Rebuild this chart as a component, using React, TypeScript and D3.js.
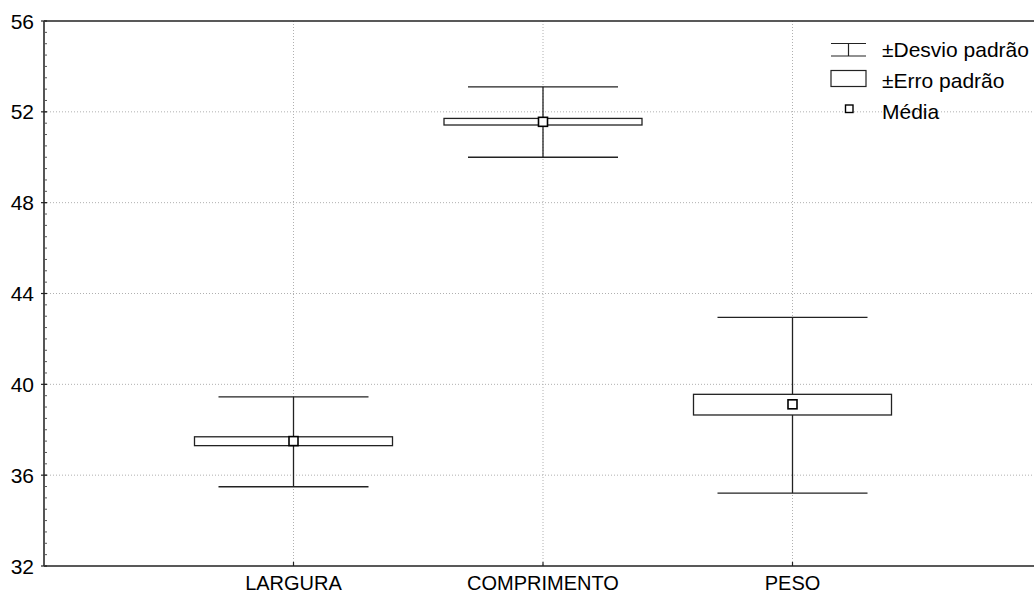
import React from "react";
import * as d3 from "d3";

const categories = ["LARGURA", "COMPRIMENTO", "PESO"];
const means = [37.5, 51.56, 39.12];
const seLow = [37.3, 51.42, 38.65];
const seHigh = [37.69, 51.71, 39.56];
const sdLow = [35.49, 50.0, 35.21];
const sdHigh = [39.45, 53.1, 42.95];
const yTicks = [32, 36, 40, 44, 48, 52, 56];
const legendLabels = ["±Desvio padrão", "±Erro padrão", "Média"];

const W = 1034;
const H = 596;
const FONT = "'Liberation Sans', Arial, sans-serif";

export default function App() {
  const x = d3.scaleLinear().domain([0, 4]).range([44, 1042]);
  const y = d3.scaleLinear().domain([32, 56]).range([566, 21]);
  const minorTicks = d3.range(32, 56.01, 0.5);
  const ink = "#222";
  const grid = "#b0b0b0";
  const boxHalf = 99;
  const capHalf = 75;
  const sq = 9;

  return (
    <svg width={W} height={H} style={{ position: "absolute", left: 0, top: 0 }}>
      <rect x={0} y={0} width={W} height={H} fill="#fff" />
      {/* grid */}
      {yTicks.slice(1, -1).map((t) => (
        <line key={"gy" + t} x1={x(0)} x2={W} y1={y(t)} y2={y(t)} stroke={grid} strokeWidth={1} strokeDasharray="1,2" />
      ))}
      {categories.map((c, i) => (
        <line key={"gx" + c} x1={x(i + 1)} x2={x(i + 1)} y1={y(56)} y2={y(32)} stroke={grid} strokeWidth={1} strokeDasharray="1,2" />
      ))}
      {/* frame */}
      <line x1={x(0)} x2={W} y1={y(56)} y2={y(56)} stroke={ink} strokeWidth={1.5} />
      <line x1={x(0)} x2={W} y1={y(32)} y2={y(32)} stroke={ink} strokeWidth={1.5} />
      <line x1={x(0)} x2={x(0)} y1={y(56)} y2={y(32)} stroke="#555" strokeWidth={2} />
      {/* minor ticks */}
      {minorTicks.map((t) => (
        <line key={"mt" + t} x1={x(0)} x2={x(0) + 3} y1={y(t)} y2={y(t)} stroke="#555" strokeWidth={1} />
      ))}
      {/* major ticks and labels */}
      {yTicks.map((t) => (
        <g key={"yt" + t}>
          <line x1={x(0) - 3} x2={x(0) + 3} y1={y(t)} y2={y(t)} stroke={ink} strokeWidth={1.2} />
          <text x={34} y={y(t)} dy="0.36em" textAnchor="end" fontFamily={FONT} fontSize={21} fill="#000">
            {t}
          </text>
        </g>
      ))}
      {categories.map((c, i) => (
        <g key={"xt" + c}>
          <line x1={x(i + 1)} x2={x(i + 1)} y1={y(32)} y2={y(32) - 4} stroke={ink} strokeWidth={1.2} />
          <text x={x(i + 1)} y={590} textAnchor="middle" fontFamily={FONT} fontSize={20} fill="#000">
            {c}
          </text>
        </g>
      ))}
      {/* whiskers, boxes, means */}
      {categories.map((c, i) => {
        const cx = x(i + 1);
        return (
          <g key={"b" + c}>
            <line x1={cx} x2={cx} y1={y(sdHigh[i])} y2={y(sdLow[i])} stroke={ink} strokeWidth={1.3} />
            <line x1={cx - capHalf} x2={cx + capHalf} y1={y(sdHigh[i])} y2={y(sdHigh[i])} stroke={ink} strokeWidth={1.3} />
            <line x1={cx - capHalf} x2={cx + capHalf} y1={y(sdLow[i])} y2={y(sdLow[i])} stroke={ink} strokeWidth={1.3} />
            <rect x={cx - boxHalf} y={y(seHigh[i])} width={boxHalf * 2} height={y(seLow[i]) - y(seHigh[i])} fill="#fff" stroke={ink} strokeWidth={1.3} />
            <rect x={cx - sq / 2} y={y(means[i]) - sq / 2} width={sq} height={sq} fill="#fff" stroke="#000" strokeWidth={1.6} />
          </g>
        );
      })}
      {/* legend */}
      <g>
        <line x1={831} x2={866} y1={43.5} y2={43.5} stroke={ink} strokeWidth={1.2} />
        <line x1={831} x2={866} y1={56} y2={56} stroke={ink} strokeWidth={1.2} />
        <line x1={848.5} x2={848.5} y1={43.5} y2={56} stroke={ink} strokeWidth={1.2} />
        <text x={882} y={57} fontFamily={FONT} fontSize={21} fill="#000">{legendLabels[0]}</text>
        <rect x={831} y={70.5} width={35} height={16} fill="#fff" stroke={ink} strokeWidth={1.2} />
        <text x={882} y={88} fontFamily={FONT} fontSize={21} fill="#000">{legendLabels[1]}</text>
        <rect x={845.5} y={105} width={7.5} height={7.5} fill="#fff" stroke="#000" strokeWidth={1.4} />
        <text x={882} y={119} fontFamily={FONT} fontSize={21} fill="#000">{legendLabels[2]}</text>
      </g>
    </svg>
  );
}
